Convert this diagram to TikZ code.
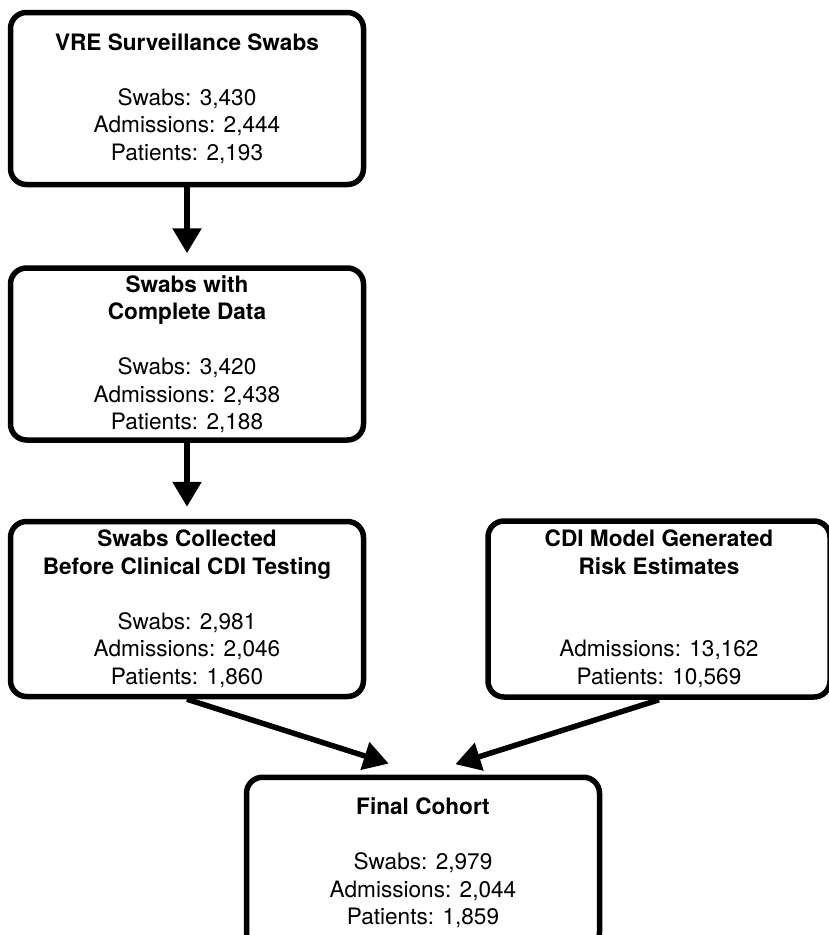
\documentclass[tikz,border=0pt]{standalone}
\usepackage{fontspec}
\setmainfont{TeX Gyre Heros}
\usetikzlibrary{arrows.meta,positioning,calc}
\tikzset{
  blk/.style ={rectangle, rounded corners=16pt, draw=black, line width=5.5pt,
               fill=white, minimum width=353pt, minimum height=172pt,
               inner sep=0pt, align=center, font=\fontsize{22.6}{27.5}\selectfont},
  ar/.style  ={-{Triangle[length=25pt,width=28pt]}, line width=5.5pt,
               shorten >=12pt}
}

\begin{document}
\begin{tikzpicture}[x=1pt,y=1pt]
\useasboundingbox (0,0) rectangle (828,-935);
\node[blk] (vre) at (187,-98.5)
      {\textbf{VRE Surveillance Swabs}\\[27.5pt]Swabs: 3,430\\Admissions: 2,444\\Patients: 2,193};
\node[blk, below=78pt of vre] (compl)
      {\textbf{Swabs with}\\\textbf{Complete Data}\\[27.5pt]Swabs: 3,420\\Admissions: 2,438\\Patients: 2,188};
\node[blk, below=76pt of compl, minimum height=175pt] (pre)
      {\textbf{Swabs Collected}\\\textbf{Before Clinical CDI Testing}\\[27.5pt]Swabs: 2,981\\Admissions: 2,046\\Patients: 1,860};
\node[blk, right=119pt of pre, minimum width=342pt, minimum height=176pt] (cdi)
      {\textbf{CDI Model Generated}\\\textbf{Risk Estimates}\\[55pt]Admissions: 13,162\\Patients: 10,569};
\coordinate (mid) at ($(pre.south)!0.5!(cdi.south)$);
\node[blk, below=75pt of mid, minimum height=171pt] (final)
      {\textbf{Final Cohort}\\[27.5pt]Swabs: 2,979\\Admissions: 2,044\\Patients: 1,859};

\draw[ar] (vre) -- (compl);
\draw[ar] (compl) -- (pre);
\draw[ar, shorten >=36pt] (pre.south) -- (final.north);
\draw[ar, shorten >=34pt] (cdi.south) -- (final.north);
\end{tikzpicture}
\end{document}
